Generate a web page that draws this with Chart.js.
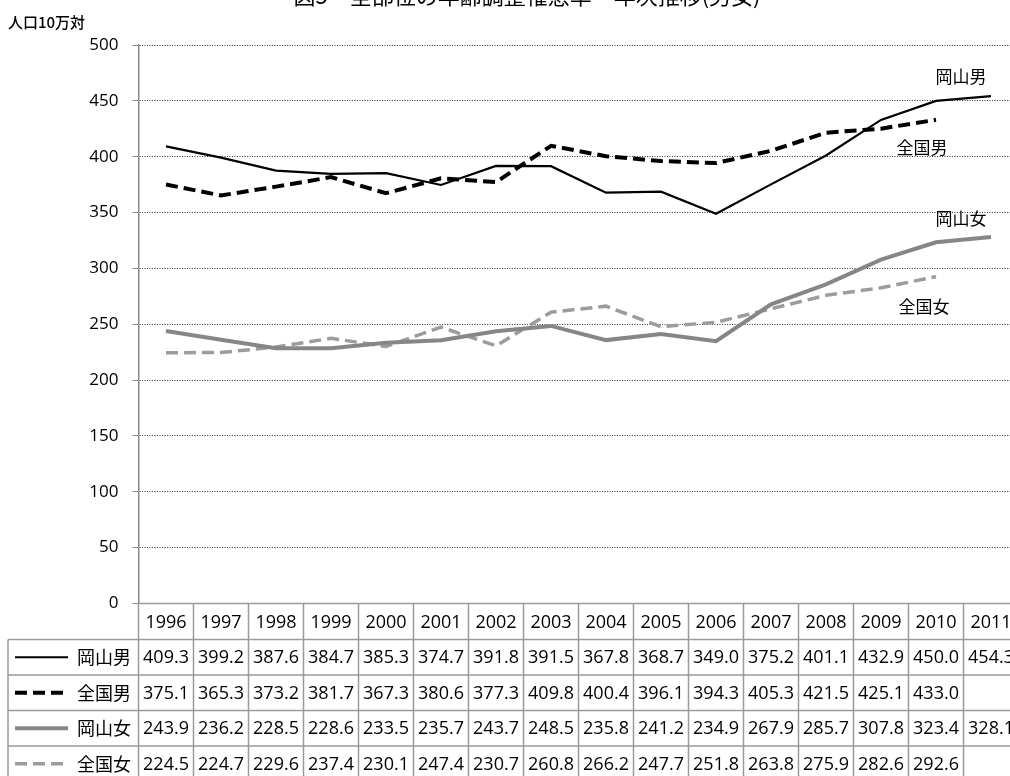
<!DOCTYPE html>
<html>
<head>
<meta charset="utf-8">
<script src="https://cdn.jsdelivr.net/npm/chart.js@4"></script>
<style>
  html, body { margin: 0; padding: 0; background: #fff; overflow: hidden; }
  #wrap { width: 1030px; height: 776px; }
</style>
</head>
<body>
<div id="wrap"><canvas id="chart" width="1030" height="776"></canvas></div>
<script>
const years = ['1996', '1997', '1998', '1999', '2000', '2001', '2002', '2003',
               '2004', '2005', '2006', '2007', '2008', '2009', '2010', '2011'];
const okayamaMale   = [409.3, 399.2, 387.6, 384.7, 385.3, 374.7, 391.8, 391.5, 367.8, 368.7, 349.0, 375.2, 401.1, 432.9, 450.0, 454.3];
const zenkokuMale   = [375.1, 365.3, 373.2, 381.7, 367.3, 380.6, 377.3, 409.8, 400.4, 396.1, 394.3, 405.3, 421.5, 425.1, 433.0, null];
const okayamaFemale = [243.9, 236.2, 228.5, 228.6, 233.5, 235.7, 243.7, 248.5, 235.8, 241.2, 234.9, 267.9, 285.7, 307.8, 323.4, 328.1];
const zenkokuFemale = [224.5, 224.7, 229.6, 237.4, 230.1, 247.4, 230.7, 260.8, 266.2, 247.7, 251.8, 263.8, 275.9, 282.6, 292.6, null];
const seriesNames = ['岡山男', '全国男', '岡山女', '全国女'];
const yTicks = [0, 50, 100, 150, 200, 250, 300, 350, 400, 450, 500];

const titleText = '図5　全部位の年齢調整罹患率　年次推移(男女)';
const unitText = '人口10万対';

const numFont = '"Open Sans", "Noto Sans CJK JP", sans-serif';
const jpFont = '"Noto Sans CJK JP", sans-serif';
const gridGray = '#9a9a9a';

const styles = [
    { color: '#000000', width: 2.2, dash: [] },
    { color: '#000000', width: 4, dash: [12, 6] },
    { color: '#868686', width: 4, dash: [] },
    { color: '#9c9c9c', width: 3.5, dash: [12, 6] }
];

// labels next to the lines: [category index, value, pixel shift in x]
const lineLabels = [
    [15, 472, -30],
    [14, 408, -14],
    [15, 345, -30],
    [14, 265.5, -12]
];

const tablePlugin = {
    id: 'tablePlugin',
    afterDraw(chart) {
        const ctx = chart.ctx;
        const x = chart.scales.x;
        const y = chart.scales.y;
        const area = chart.chartArea;
        const colW = x.getPixelForValue(1) - x.getPixelForValue(0);
        const top = area.bottom;
        const headH = 36;
        const rowH = 35.5;
        const labelLeft = 8;
        const allData = [okayamaMale, zenkokuMale, okayamaFemale, zenkokuFemale];

        ctx.save();

        // title (cut at top) and unit label
        ctx.fillStyle = '#000';
        ctx.font = '22px ' + jpFont;
        ctx.textAlign = 'center';
        ctx.textBaseline = 'middle';
        ctx.fillText(titleText, 527, -4);
        ctx.font = '500 15px ' + jpFont;
        ctx.textAlign = 'left';
        ctx.fillText(unitText, 8, 22);

        // series labels on the chart
        ctx.font = '17px ' + jpFont;
        ctx.textAlign = 'center';
        lineLabels.forEach((l, i) => {
            ctx.fillText(seriesNames[i], x.getPixelForValue(l[0]) + l[2], y.getPixelForValue(l[1]));
        });

        // table grid
        ctx.strokeStyle = gridGray;
        ctx.lineWidth = 1.5;
        const right = area.right;
        const bottom = top + headH + rowH * 4;
        ctx.beginPath();
        ctx.moveTo(area.left, top); ctx.lineTo(right, top);
        for (let r = 0; r <= 4; r++) {
            const yy = top + headH + rowH * r;
            ctx.moveTo(labelLeft, yy); ctx.lineTo(right, yy);
        }
        ctx.moveTo(labelLeft, top + headH); ctx.lineTo(labelLeft, bottom);
        for (let c = 0; c <= years.length; c++) {
            const xx = area.left + colW * c;
            ctx.moveTo(xx, top); ctx.lineTo(xx, bottom);
        }
        ctx.stroke();

        // header years
        ctx.fillStyle = '#000';
        ctx.font = '18px ' + numFont;
        ctx.textAlign = 'center';
        ctx.textBaseline = 'middle';
        years.forEach((yr, i) => {
            ctx.fillText(yr, x.getPixelForValue(i), top + headH / 2 + 1);
        });

        // rows
        allData.forEach((vals, r) => {
            const cy = top + headH + rowH * r + rowH / 2 + 1;
            ctx.font = '18px ' + numFont;
            ctx.textAlign = 'center';
            vals.forEach((v, i) => {
                if (v !== null) ctx.fillText(v.toFixed(1), x.getPixelForValue(i), cy);
            });
            // legend sample
            const st = styles[r];
            ctx.save();
            ctx.strokeStyle = st.color;
            ctx.lineWidth = st.width;
            ctx.setLineDash(st.dash);
            ctx.beginPath();
            ctx.moveTo(15, cy - 1); ctx.lineTo(68, cy - 1);
            ctx.stroke();
            ctx.restore();
            ctx.font = '18px ' + jpFont;
            ctx.textAlign = 'right';
            ctx.fillText(seriesNames[r], 131, cy - 1);
        });

        ctx.restore();
    }
};

const datasets = [okayamaMale, zenkokuMale, okayamaFemale, zenkokuFemale].map((d, i) => ({
    label: seriesNames[i],
    data: d,
    borderColor: styles[i].color,
    borderWidth: styles[i].width,
    borderDash: styles[i].dash,
    pointRadius: 0,
    tension: 0,
    fill: false
}));

new Chart(document.getElementById('chart'), {
    type: 'line',
    data: { labels: years, datasets: datasets },
    options: {
        responsive: false,
        animation: false,
        layout: { padding: { top: 45, bottom: 172.5, left: 0, right: 11.5 } },
        plugins: {
            legend: { display: false },
            title: { display: false },
            tooltip: { enabled: false }
        },
        scales: {
            x: {
                display: false,
                offset: true
            },
            y: {
                min: 0,
                max: 500,
                afterBuildTicks: (scale) => { scale.ticks = yTicks.map(v => ({ value: v })); },
                afterFit: (scale) => { scale.width = 138.5; },
                ticks: {
                    color: '#000',
                    padding: 14,
                    font: { family: numFont, size: 17 }
                },
                grid: {
                    color: '#333',
                    lineWidth: 1,
                    tickLength: 6,
                    tickColor: '#888'
                },
                border: {
                    display: true,
                    color: '#888',
                    width: 1.5,
                    dash: [1, 1.5]
                }
            }
        }
    },
    plugins: [tablePlugin]
});
</script>
</body>
</html>
